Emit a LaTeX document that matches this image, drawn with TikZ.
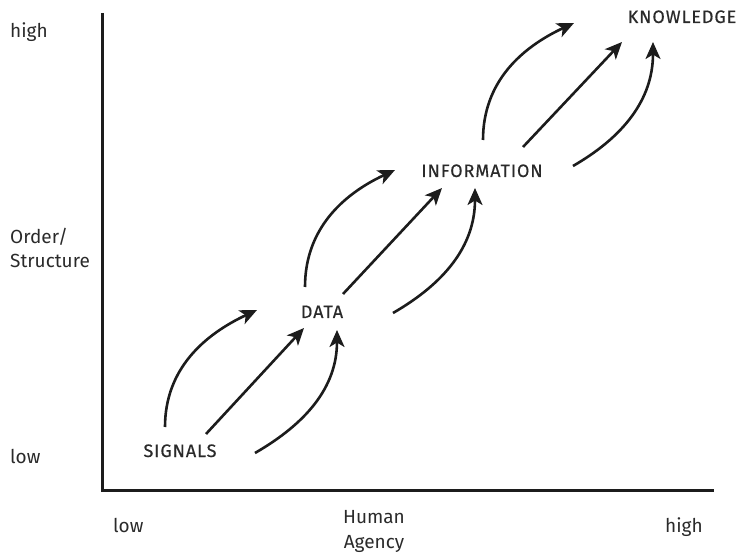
\documentclass[tikz,border=0pt]{standalone}
\usepackage{fontspec}
\setmainfont{Fira Sans}
\newfontfamily\capsfont[LetterSpace=5,FakeBold=0.4]{Fira Sans}
\usetikzlibrary{arrows.meta}
\definecolor{ink}{HTML}{1C1C1C}
\definecolor{txt}{HTML}{2A2A2A}
\begin{document}
\begin{tikzpicture}[x=1pt,y=1pt,
  axis/.style={draw=ink,line width=2.7pt},
  axlabel/.style={text=txt,font=\fontsize{19}{24.5}\selectfont,inner sep=0pt},
  stage/.style={text=txt,font=\capsfont\fontsize{18}{20}\selectfont,inner sep=0pt,anchor=base},
  flow/.style={draw=ink,line width=2.6pt,-{Stealth[length=17pt,width=15pt,inset=4.5pt]}}]
\useasboundingbox (0,0) rectangle (742,-553);

% axes
\coordinate (top) at (102.7,-13);
\coordinate (origin) at (102.7,-490.7);
\coordinate (right) at (714,-490.7);
\draw[axis] (top) -- (origin) -- (right);

% axis labels (base anchors of two-line labels sit on the last line)
\node[axlabel,anchor=base west] (yhigh) at (10,-38) {high};
\node[axlabel,anchor=base west,align=left] (ytitle) at (10,-268) {Order/\\Structure};
\node[axlabel,anchor=base west] (ylow) at (10,-463) {low};
\node[axlabel,anchor=base west] (xlow) at (113,-532) {low};
\node[axlabel,anchor=base,align=center] (xtitle) at (374,-548) {Human\\Agency};
\node[axlabel,anchor=base west] (xhigh) at (665,-532) {high};

% stages
\node[stage] (sig) at (180,-457) {SIGNALS};
\node[stage] (dat) at (322,-318) {DATA};
\node[stage] (inf) at (482,-177) {INFORMATION};
\node[stage] (kno) at (682,-23) {KNOWLEDGE};

% arrow end points
\coordinate (s1) at (165,-427); \coordinate (d1) at (257,-310);
\coordinate (s2) at (206,-434); \coordinate (d2) at (304,-328);
\coordinate (s3) at (255,-453); \coordinate (d3) at (337,-330);

\coordinate (t1) at (305,-287); \coordinate (i1) at (395,-170);
\coordinate (t2) at (343,-294); \coordinate (i2) at (442,-188);
\coordinate (t3) at (393,-313); \coordinate (i3) at (475,-188);

\coordinate (n1) at (483,-140); \coordinate (k1) at (574,-23);
\coordinate (n2) at (523,-147); \coordinate (k2) at (622,-42);
\coordinate (n3) at (573,-166); \coordinate (k3) at (653,-42);

% signals -> data
\draw[flow] (s1) to[out=90,in=205] (d1);
\draw[flow] (s2) -- (d2);
\draw[flow] (s3) to[out=30,in=-90] (d3);

% data -> information
\draw[flow] (t1) to[out=90,in=205] (i1);
\draw[flow] (t2) -- (i2);
\draw[flow] (t3) to[out=30,in=-90] (i3);

% information -> knowledge
\draw[flow] (n1) to[out=90,in=205] (k1);
\draw[flow] (n2) -- (k2);
\draw[flow] (n3) to[out=30,in=-90] (k3);
\end{tikzpicture}
\end{document}
